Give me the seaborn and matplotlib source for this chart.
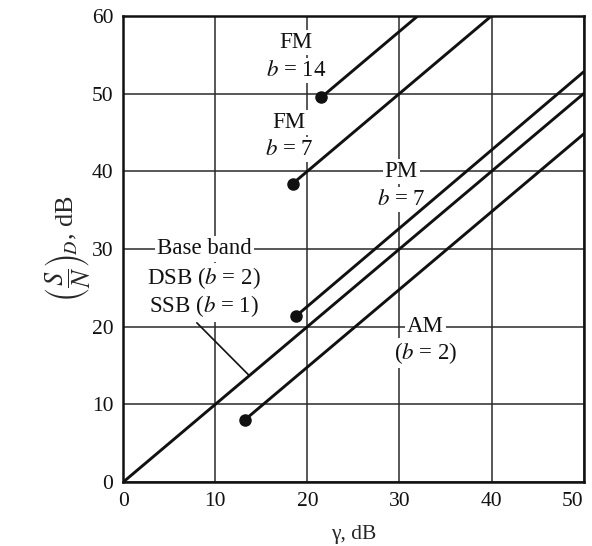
import pandas as pd
import seaborn as sns
import matplotlib.pyplot as plt

# curve end points (gamma in dB, (S/N)_D in dB)
baseband_x = [0, 50]
baseband_y = [0, 50]
am_x = [13.2, 50]
am_y = [8.0, 44.8]
pm_x = [18.8, 50]
pm_y = [21.4, 52.8]
fm7_x = [18.4, 40]
fm7_y = [38.4, 60]
fm14_x = [21.5, 32]
fm14_y = [49.5, 60]

x_ticks = [0, 10, 20, 30, 40, 50]
y_ticks = [0, 10, 20, 30, 40, 50, 60]

sns.set_style("white")
plt.rcParams['font.family'] = ['Liberation Serif', 'DejaVu Serif']
plt.rcParams['mathtext.fontset'] = 'stix'

fig = plt.figure(figsize=(5.92, 5.46), dpi=100)
ax = fig.add_axes([0.208, 0.117, 0.778, 0.854])

curves = {
    'baseband': (baseband_x, baseband_y, False),
    'am': (am_x, am_y, True),
    'pm': (pm_x, pm_y, True),
    'fm7': (fm7_x, fm7_y, True),
    'fm14': (fm14_x, fm14_y, True),
}
for name, (xs, ys, dot) in curves.items():
    df = pd.DataFrame({'x': xs, 'y': ys})
    sns.lineplot(data=df, x='x', y='y', ax=ax, color='#111111', linewidth=2.1,
                 sort=False, estimator=None, zorder=4)
    if dot:
        ax.plot(xs[0], ys[0], 'o', color='#111111', markersize=8, zorder=5)

ax.set_xlim(0, 50)
ax.set_ylim(0, 60)
ax.set_xticks(x_ticks)
ax.set_yticks(y_ticks)
ax.grid(True, color='#2a2a2a', linewidth=1.1, zorder=1)
ax.set_axisbelow(True)
ax.tick_params(length=0, labelsize=15.5, pad=7, colors='#111111')
ax.get_xticklabels()[-1].set_horizontalalignment('right')
for s in ax.spines.values():
    s.set_linewidth(1.8)
    s.set_color('#111111')

ax.set_xlabel('γ, dB', fontsize=15.5, labelpad=10)
ax.set_ylabel(r'$\left(\dfrac{S}{N}\right)_{\!D}$, dB', fontsize=19, labelpad=0)

box = dict(facecolor='white', edgecolor='none', pad=1.5)
kw = dict(fontsize=16.5, ha='center', va='center', color='#111111', zorder=3)
ax.text(18.8, 56.6, 'FM', bbox=box, **kw)
ax.text(18.8, 53.0, r'$b$ = 14', bbox=box, **kw)
ax.text(18.0, 46.3, 'FM', bbox=box, **kw)
ax.text(18.0, 42.8, r'$b$ = 7', bbox=box, **kw)
ax.text(30.2, 40.0, 'PM', bbox=box, **kw)
ax.text(30.2, 36.4, r'$b$ = 7', bbox=box, **kw)
ax.text(32.8, 20.0, 'AM', bbox=box, **kw)
ax.text(32.8, 16.6, r'($b$ = 2)', bbox=box, **kw)
ax.text(8.8, 30.0, 'Base band', bbox=box, **kw)
ax.text(8.8, 26.3, r'DSB ($b$ = 2)', bbox=box, **kw)
ax.text(8.8, 22.6, r'SSB ($b$ = 1)', bbox=box, **kw)
ax.plot([8.0, 13.7], [20.5, 13.7], color='#111111', linewidth=1.2, zorder=4)

fig.savefig('out.png', dpi=100)
